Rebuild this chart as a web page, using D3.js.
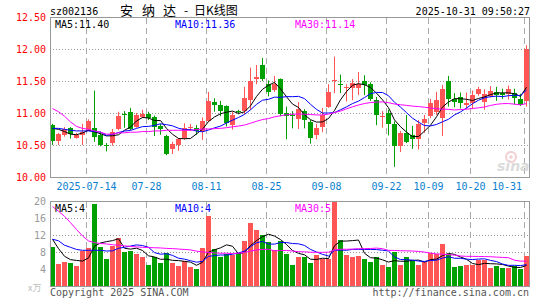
<!DOCTYPE html>
<html>
<head>
<meta charset="utf-8">
<script src="https://d3js.org/d3.v7.min.js"></script>
<style>
  body { margin: 0; background: #fff; }
  svg { display: block; }
  text { font-family: "DejaVu Sans Mono", monospace; font-size: 10px; }
</style>
</head>
<body>
<svg id="chart" width="545" height="300"></svg>
<script>
// trading days shown (07-04 .. 10-31)
var days = ["07-04","07-07","07-08","07-09","07-10","07-11","07-14","07-15","07-16","07-17","07-18","07-21","07-22","07-23","07-24","07-25","07-28","07-29","07-30","07-31",
  "08-01","08-04","08-05","08-06","08-07","08-08","08-11","08-12","08-13","08-14","08-15","08-18","08-19","08-20","08-21","08-22","08-25","08-26","08-27","08-28","08-29",
  "09-01","09-02","09-03","09-04","09-05","09-08","09-09","09-10","09-11","09-12","09-15","09-16","09-17","09-18","09-19","09-22","09-23","09-24","09-25","09-26","09-29","09-30",
  "10-09","10-10","10-13","10-14","10-15","10-16","10-17","10-20","10-21","10-22","10-23","10-24","10-27","10-28","10-29","10-30","10-31"];

var open  = [10.81,10.56,10.66,10.76,10.62,10.66,10.73,10.77,10.66,10.50,10.54,10.75,10.99,11.02,10.78,10.93,10.98,10.94,10.80,10.64,
  10.44,10.50,10.60,10.77,10.77,10.73,10.88,11.17,11.12,11.11,10.81,11.03,11.03,11.20,11.54,11.75,11.45,11.36,11.53,11.00,
  10.97,10.91,11.03,10.86,10.66,10.78,11.10,11.50,11.45,11.40,11.39,11.38,11.50,11.45,11.20,10.94,11.00,10.83,10.49,10.69,
  10.66,10.60,10.85,10.95,11.02,10.92,11.50,11.22,11.25,11.12,11.15,11.29,11.16,11.26,11.33,11.32,11.29,11.31,11.22,11.18];
var high  = [10.83,10.69,10.78,10.78,10.69,10.83,10.90,11.35,10.71,10.53,10.75,11.02,11.03,11.08,11.00,11.05,11.02,10.96,10.83,10.66,
  10.55,10.61,10.84,10.83,10.81,10.93,11.33,11.23,11.19,11.12,11.02,11.05,11.41,11.71,11.75,11.86,11.51,11.58,11.54,11.10,
  11.03,11.17,11.06,10.89,10.83,11.08,11.45,11.88,11.60,11.45,11.53,11.64,11.59,11.48,11.25,11.03,11.05,10.87,10.72,10.97,
  10.80,10.89,10.97,11.22,11.33,11.44,11.58,11.31,11.32,11.32,11.35,11.41,11.37,11.42,11.41,11.38,11.43,11.38,11.30,12.06];
var low   = [10.50,10.50,10.63,10.60,10.60,10.50,10.72,10.55,10.48,10.40,10.49,10.73,10.77,10.73,10.77,10.92,10.89,10.64,10.66,10.34,
  10.36,10.41,10.58,10.72,10.66,10.58,10.86,11.02,10.95,10.79,10.74,10.98,10.98,11.05,11.45,11.50,11.26,11.33,10.95,10.59,
  10.76,10.75,10.76,10.52,10.59,10.70,11.08,11.31,11.31,11.18,11.20,11.28,11.28,11.19,10.81,10.77,10.65,10.16,10.39,10.53,
  10.44,10.43,10.69,10.92,10.97,10.64,11.10,11.09,11.07,11.06,11.06,11.27,11.05,11.24,11.19,11.22,11.21,11.13,11.11,11.10];
var close = [10.56,10.67,10.75,10.66,10.66,10.70,10.88,10.63,10.51,10.49,10.71,10.96,10.98,10.76,10.97,10.98,10.92,10.78,10.76,10.36,
  10.52,10.59,10.76,10.78,10.72,10.88,11.19,11.12,11.03,10.84,10.97,11.01,11.24,11.50,11.57,11.53,11.33,11.46,10.99,10.96,
  10.96,11.06,10.89,10.61,10.77,10.97,11.33,11.52,11.44,11.41,11.47,11.45,11.44,11.22,10.97,10.95,10.83,10.49,10.69,10.55,
  10.60,10.83,10.91,11.16,11.20,11.37,11.22,11.17,11.16,11.15,11.28,11.375,11.29,11.34,11.28,11.29,11.37,11.23,11.13,12.00];

// volume, x万
var volume = [9.1,5.2,5.6,5.4,4.8,8.3,9.0,19.3,9.2,6.4,9.5,11.2,8.1,8.2,7.5,6.8,4.9,6.8,5.4,7.7,
  5.4,4.6,5.9,4.5,4.0,8.9,16.5,8.7,6.8,7.5,7.3,7.5,10.6,14.8,13.2,12.0,10.3,8.5,10.6,7.5,
  4.9,6.9,6.8,5.4,7.2,6.4,6.4,22.0,10.8,7.3,6.9,7.1,6.4,5.6,6.8,4.9,4.5,8.0,4.9,6.8,
  5.9,4.9,5.6,7.8,7.5,9.9,7.5,4.5,4.7,4.9,4.9,6.1,6.1,4.2,4.7,4.2,4.2,4.7,4.0,7.1];

// moving averages before a full window is on screen
var ma5Head  = [10.76,10.745,10.71,10.67];
var ma10Head = [10.76,10.76,10.745,10.73,10.72,10.72,10.72,10.71,10.70];
var ma30Head = [11.07,11.02,10.95,10.86,10.79,10.76,10.745,10.72,10.70,10.67,10.67,10.69,10.69,10.70,10.70,
  10.71,10.71,10.72,10.72,10.73,10.73,10.73,10.73,10.73,10.74,10.75,10.75,10.755,10.76];
var vma5Head  = [11.0,8.8,7.0,6.2];
var vma10Head = [11.0,10.65,9.6,9.1,8.6,8.4,8.4,8.4,8.4];
var vma30Head = [18.7,17.6,16.4,14.9,13.3,11.8,10.6,10.2,10.0,9.9,9.7,9.6,9.45,9.3,9.2,
  9.1,9.05,9.0,8.95,8.85,8.8,8.7,8.6,8.5,8.2,8.0,7.9,7.8,7.7];

var priceTicks = [10, 10.5, 11, 11.5, 12, 12.5];
var volTicks = [4, 8, 12, 16, 20];
var tickDays = ["07-14","07-28","08-11","08-25","09-08","09-22","10-09","10-20","10-31"];
var tickLabels = ["2025-07-14","07-28","08-11","08-25","09-08","09-22","10-09","10-20","10-31"];

var code = "sz002136";
var titleParts = ["安", "纳", "达", "-", "日K线图"];
var stamp = "2025-10-31 09:50:27";
var maText = ["MA5:11.40", "MA10:11.36", "MA30:11.14"];
var vmaText = ["MA5:4", "MA10:4", "MA30:5"];

var RED = "#ff5555", GREEN = "#00a000", GRID = "#999";
var lineColors = ["#000", "#0000ff", "#ff00ff"];

var svg = d3.select("#chart");

var left = 50, right = 529;
var xScale = d3.scaleLinear().domain([0, days.length]).range([left, left + 6 * days.length]);
var yScale = d3.scaleLinear().domain([10, 12.5]).range([177, 17]);
var vScale = d3.scaleLinear().domain([0, 20]).range([286, 201]);

function movingAvg(arr, n, head) {
  return arr.map(function(v, i) {
    if (i < n - 1) return head[i];
    return d3.mean(arr.slice(i - n + 1, i + 1));
  });
}

var data = days.map(function(d, i) {
  return {i: i, day: d, o: open[i], h: high[i], l: low[i], c: close[i], v: volume[i]};
});

var priceMA = [movingAvg(close, 5, ma5Head), movingAvg(close, 10, ma10Head), movingAvg(close, 30, ma30Head)];
var volMA = [movingAvg(volume, 5, vma5Head), movingAvg(volume, 10, vma10Head), movingAvg(volume, 30, vma30Head)];

var defs = svg.append("defs");
defs.append("clipPath").attr("id", "clipMain")
  .append("rect").attr("x", left).attr("y", 17).attr("width", right - left + 1).attr("height", 161);
defs.append("clipPath").attr("id", "clipVol")
  .append("rect").attr("x", left).attr("y", 201).attr("width", right - left + 1).attr("height", 86);

///////////////////////HEADER
svg.append("text").attr("x", 50).attr("y", 15).text(code);
var titleX = [120, 142, 163, 184, 194];
svg.append("g").selectAll("text").data(titleParts).enter().append("text")
  .attr("x", (d, k) => titleX[k]).attr("y", 15)
  .style("font-family", "'Noto Sans CJK SC', sans-serif")
  .style("font-size", (d, k) => k < 3 ? "13px" : "12px")
  .text(d => d);
svg.append("text").attr("x", 530).attr("y", 15).attr("text-anchor", "end").text(stamp);

///////////////////////GRID
function grid(g, yS, ticks, y0, y1) {
  g.selectAll(".hgrid").data(ticks).enter().append("line")
    .attr("x1", left).attr("x2", right)
    .attr("y1", d => Math.round(yS(d)) + 0.5).attr("y2", d => Math.round(yS(d)) + 0.5)
    .attr("stroke", GRID).attr("stroke-dasharray", "1,2");
  g.selectAll(".vgrid").data(tickDays).enter().append("line")
    .attr("x1", d => xScale(days.indexOf(d)) + 0.5).attr("x2", d => xScale(days.indexOf(d)) + 0.5)
    .attr("y1", y0).attr("y2", y1)
    .attr("stroke", "#aaa").attr("stroke-dasharray", "6,4");
}
grid(svg.append("g"), yScale, [10.5, 11, 11.5, 12], 18, 177);
grid(svg.append("g"), vScale, [4, 8, 12, 16], 202, 286);

///////////////////////AXES
var yAxis = d3.axisLeft(yScale).tickValues(priceTicks).tickSize(0).tickPadding(4).tickFormat(d3.format(".2f"));
svg.append("g").attr("transform", "translate(" + left + ",0)").call(yAxis)
  .call(g => g.select(".domain").remove())
  .selectAll("text").attr("fill", "#ff0000").style("font-size", "10px").style("font-family", "'DejaVu Sans Mono', monospace");

var vAxis = d3.axisLeft(vScale).tickValues(volTicks).tickSize(0).tickPadding(4);
svg.append("g").attr("transform", "translate(" + left + ",0)").call(vAxis)
  .call(g => g.select(".domain").remove())
  .selectAll("text").attr("fill", "#999").style("font-size", "10px").style("font-family", "'DejaVu Sans Mono', monospace");

svg.append("text").attr("x", 28).attr("y", 291).attr("fill", "#bbb")
  .style("font-family", "'Noto Sans CJK SC', sans-serif").style("font-size", "9px").text("x万");

svg.selectAll(".date-label").data(tickDays).enter().append("text")
  .attr("class", "date-label")
  .attr("x", (d, k) => k === tickDays.length - 1 ? xScale(days.indexOf(d)) - 2 : xScale(days.indexOf(d)) + 0.5)
  .attr("y", 189.5)
  .attr("text-anchor", (d, k) => k === tickDays.length - 1 ? "end" : "middle")
  .attr("fill", "#0a7fd0")
  .text((d, k) => tickLabels[k]);

///////////////////////SINA MARK
var mark = svg.append("g").attr("opacity", 0.9);
mark.append("circle").attr("cx", 511).attr("cy", 157).attr("r", 5).attr("fill", "none").attr("stroke", "#f2caca").attr("stroke-width", 2);
mark.append("circle").attr("cx", 511).attr("cy", 157).attr("r", 1.8).attr("fill", "#f2caca");
mark.append("text").attr("x", 497).attr("y", 171)
  .style("font-family", "'DejaVu Sans', sans-serif").style("font-size", "14px")
  .style("font-weight", "bold").style("font-style", "italic")
  .attr("fill", "#d8d8d8").text("sina");

///////////////////////CANDLES
var candles = svg.append("g").attr("clip-path", "url(#clipMain)");
candles.selectAll(".wick").data(data).enter().append("line")
  .attr("x1", d => xScale(d.i) + 2.5).attr("x2", d => xScale(d.i) + 2.5)
  .attr("y1", d => yScale(d.h)).attr("y2", d => yScale(d.l))
  .attr("stroke", d => d.c >= d.o ? RED : GREEN);
candles.selectAll(".body").data(data).enter().append("rect")
  .attr("x", d => xScale(d.i))
  .attr("width", 5)
  .attr("y", d => Math.round(yScale(Math.max(d.o, d.c))))
  .attr("height", d => Math.max(1, Math.round(yScale(Math.min(d.o, d.c)) - yScale(Math.max(d.o, d.c)))))
  .attr("fill", d => d.c >= d.o ? RED : GREEN)
  .attr("shape-rendering", "crispEdges");

var priceLine = d3.line().x((v, i) => xScale(i) + 2.5).y(v => yScale(v));
priceMA.forEach(function(series, k) {
  candles.append("path").attr("d", priceLine(series))
    .attr("fill", "none").attr("stroke", lineColors[k]).attr("stroke-width", 1);
});

///////////////////////VOLUME
var vol = svg.append("g").attr("clip-path", "url(#clipVol)");
vol.selectAll(".vbar").data(data).enter().append("rect")
  .attr("x", d => xScale(d.i))
  .attr("width", 5)
  .attr("y", d => vScale(d.v))
  .attr("height", d => vScale(0) - vScale(d.v))
  .attr("fill", d => d.c >= d.o ? RED : GREEN)
  .attr("shape-rendering", "crispEdges");

var volLine = d3.line().x((v, i) => xScale(i) + 2.5).y(v => vScale(v));
volMA.forEach(function(series, k) {
  vol.append("path").attr("d", volLine(series))
    .attr("fill", "none").attr("stroke", lineColors[k]).attr("stroke-width", 1);
});

///////////////////////FRAMES
svg.append("rect").attr("x", left + 0.5).attr("y", 17.5).attr("width", right - left).attr("height", 160)
  .attr("fill", "none").attr("stroke", "#999");
svg.append("rect").attr("x", left + 0.5).attr("y", 201.5).attr("width", right - left).attr("height", 85)
  .attr("fill", "none").attr("stroke", "#999");

///////////////////////MA LABELS
[55, 175, 295].forEach(function(x, k) {
  svg.append("text").attr("x", x).attr("y", 27.5).attr("fill", lineColors[k]).text(maText[k]);
  svg.append("text").attr("x", x).attr("y", 211.5).attr("fill", lineColors[k]).text(vmaText[k]);
});

///////////////////////FOOTER
svg.append("text").attr("x", 50).attr("y", 296).attr("fill", "#555").text("Copyright 2025 SINA.COM");
svg.append("text").attr("x", 529).attr("y", 296).attr("text-anchor", "end").attr("fill", "#555").text("http://finance.sina.com.cn");
</script>
</body>
</html>
